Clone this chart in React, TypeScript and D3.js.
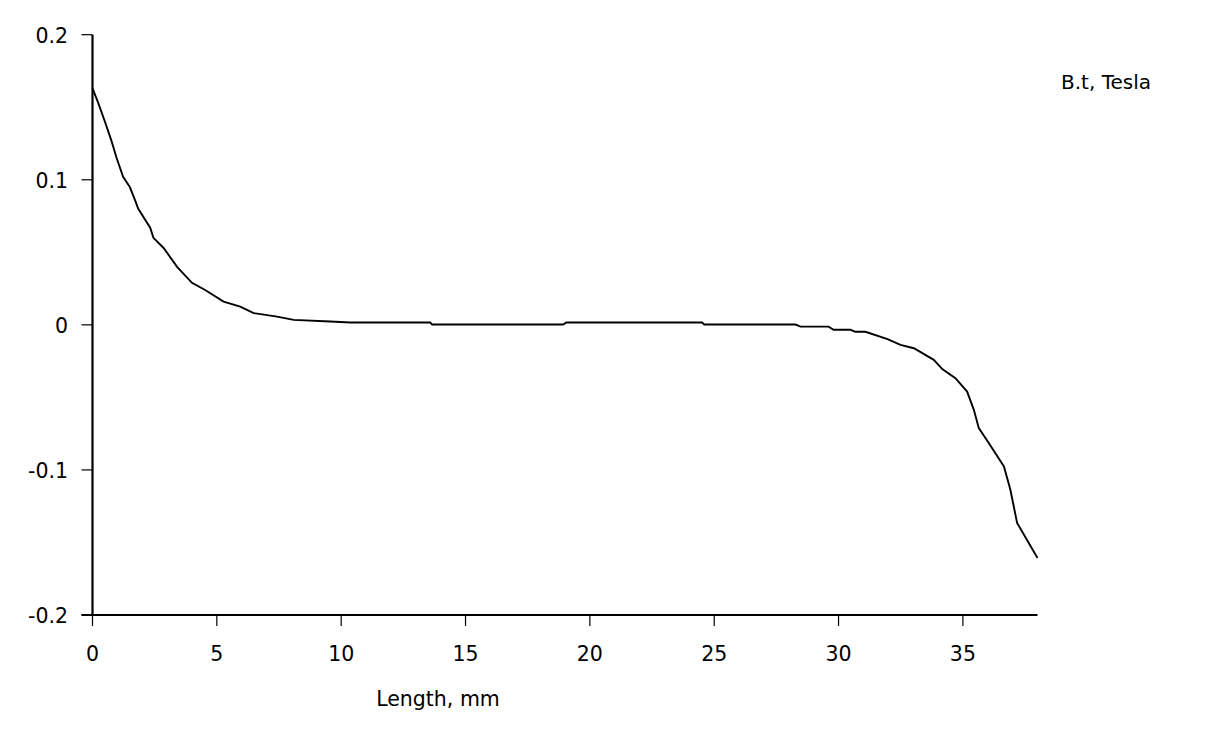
import React from "react";
import * as d3 from "d3";

const lengthMm = [0, 0.23, 0.5, 0.76, 0.97, 1.23, 1.5, 1.71, 1.84, 2.32, 2.45, 2.86, 3.4, 4.0, 4.53, 5.27, 5.94, 6.48, 7.42, 8.09, 9.56, 10.37, 13.58, 13.66, 18.93, 19.05, 24.51, 24.6, 28.27, 28.47, 29.6, 29.8, 30.48, 30.68, 31.08, 31.97, 32.49, 33.03, 33.83, 34.17, 34.7, 35.17, 35.44, 35.64, 36.04, 36.65, 36.91, 37.18, 38.0];
const bTesla = [0.163, 0.153, 0.14, 0.127, 0.115, 0.102, 0.095, 0.086, 0.08, 0.067, 0.06, 0.053, 0.04, 0.029, 0.024, 0.016, 0.0126, 0.0081, 0.0057, 0.0034, 0.0023, 0.0016, 0.0016, 0.0002, 0.0002, 0.0016, 0.0016, 0.0002, 0.0002, -0.0012, -0.0012, -0.0034, -0.0034, -0.0048, -0.0048, -0.0099, -0.0138, -0.0161, -0.0241, -0.0305, -0.0367, -0.046, -0.0586, -0.0712, -0.0815, -0.0976, -0.1137, -0.1366, -0.1607];
const xTicks = [0, 5, 10, 15, 20, 25, 30, 35];
const yTicks = [0.2, 0.1, 0, -0.1, -0.2];
const xTitle = "Length, mm";
const yTitle = "B.t, Tesla";

export default function App() {
  const W = 1214, H = 748;
  const x = d3.scaleLinear().domain([0, 38]).range([92.5, 1037.5]);
  const y = d3.scaleLinear().domain([-0.2, 0.2]).range([615, 34.7]);
  const pts: [number, number][] = lengthMm.map((d, i) => [d, bTesla[i]]);
  const line = d3.line<[number, number]>().x(d => x(d[0])).y(d => y(d[1]));
  const font = "DejaVu Sans";
  return (
    <svg width={W} height={H} style={{ position: "absolute", left: 0, top: 0, background: "#fff" }} fontFamily={font}>
      <rect width={W} height={H} fill="#fff" />
      <line x1={x(0)} x2={x(0)} y1={y(0.2)} y2={y(-0.2)} stroke="#000" strokeWidth={2.2} />
      <line x1={x(0) - 11} x2={x(38)} y1={y(-0.2)} y2={y(-0.2)} stroke="#000" strokeWidth={2.2} />
      {yTicks.map(t => (
        <g key={"y" + t}>
          <line x1={x(0) - 11} x2={x(0)} y1={y(t)} y2={y(t)} stroke="#000" strokeWidth={1.2} />
          <text x={68} y={y(t) + 8} textAnchor="end" fontSize={20.5} fill="#000">{String(t)}</text>
        </g>
      ))}
      {xTicks.map(t => (
        <g key={"x" + t}>
          <line x1={x(t)} x2={x(t)} y1={y(-0.2)} y2={y(-0.2) + 11} stroke="#000" strokeWidth={1.2} />
          <text x={x(t)} y={661} textAnchor="middle" fontSize={20.5} fill="#000">{t}</text>
        </g>
      ))}
      <text x={438} y={706} textAnchor="middle" fontSize={20.5} fill="#000">{xTitle}</text>
      <text x={1061} y={89} textAnchor="start" fontSize={20} fill="#000">{yTitle}</text>
      <path d={line(pts) || ""} fill="none" stroke="#000" strokeWidth={1.9} />
    </svg>
  );
}
